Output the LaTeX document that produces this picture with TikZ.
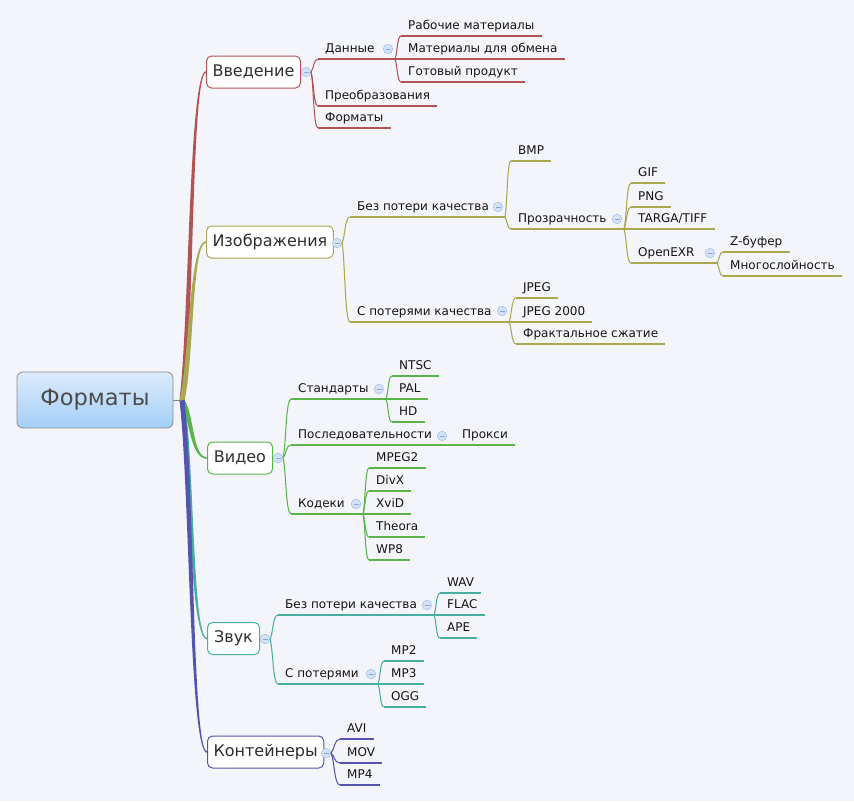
\documentclass[tikz,border=0pt]{standalone}
\usepackage{fontspec}
\setmainfont{DejaVu Sans}
\usetikzlibrary{calc}
\definecolor{bgc}{HTML}{F4F5FA}
\definecolor{cintro}{HTML}{B25456}
\definecolor{cimg}{HTML}{A8A850}
\definecolor{cvid}{HTML}{5AB44A}
\definecolor{csnd}{HTML}{48AFA0}
\definecolor{ccon}{HTML}{5454AE}
\definecolor{togf}{HTML}{D2E2F8}
\definecolor{togd}{HTML}{A9C2EA}
\definecolor{togm}{HTML}{8FA6D6}
\definecolor{txt}{HTML}{141414}
\definecolor{roottop}{HTML}{DCEBFB}
\definecolor{rootbot}{HTML}{A4CEF8}
\newcommand\leafline[2]{\draw[#1,ul] (#2.south west) -- (#2.south east);}
\newcommand\rootlink[2]{%
  \fill[#1] let \p1=(hub), \p2=(#2.west), \n1={sign(\y2-\y1)} in
  ({\x1-2.5pt},\y1) .. controls ({\x1-2.3pt+0.4*(\x2-\x1)},{\y1+0.25*(\y2-\y1)}) and ({\x1-1.5pt+0.35*(\x2-\x1)},{\y2+\n1*0.8pt}) .. (\x2,{\y2+\n1*0.8pt})
  -- (\x2,{\y2-\n1*0.8pt}) .. controls ({\x1+1.5pt+0.35*(\x2-\x1)},{\y2-\n1*0.8pt}) and ({\x1+2.3pt+0.4*(\x2-\x1)},{\y1+0.25*(\y2-\y1)}) .. ({\x1+2.5pt},\y1) -- cycle;}
\begin{document}
\begin{tikzpicture}[x=1pt,y=-1pt,
  leaf/.style={font=\fontsize{12}{14}\selectfont, text=txt, inner xsep=7pt, inner ysep=6pt, text height=9pt, text depth=0pt, anchor=south west},
  topic/.style={draw=#1, line width=1pt, fill=white, rounded corners=5pt, minimum height=32pt, inner xsep=6pt, anchor=west, font=\fontsize{16}{19}\selectfont, text=black!82},
  tog/.style={circle, draw=togd, fill=togf, line width=0.6pt, minimum size=9.5pt, inner sep=0pt, path picture={\draw[togm, line width=0.8pt] ([xshift=-2.5pt]path picture bounding box.center) -- ([xshift=2.5pt]path picture bounding box.center);}},
  br/.style={line width=1.05pt, to path={let \p1=(\tikztostart), \p2=(\tikztotarget) in .. controls ({\x1+0.4*(\x2-\x1)},{\y1+0.25*(\y2-\y1)}) and ({\x1+0.35*(\x2-\x1)},\y2) .. (\tikztotarget)}},
  ul/.style={line width=1.05pt},
]
\fill[bgc] (0,0) rectangle (854,801);
\useasboundingbox (0,0) rectangle (854,801);

% root
\node[draw=black!45, line width=0.8pt, rounded corners=6pt, top color=roottop, bottom color=rootbot, minimum width=156pt, minimum height=56pt, font=\fontsize{22.5}{26}\selectfont, text=black!70] (root) at (95,400) {Форматы};
\coordinate (hub) at (182,400);

% main topic positions (named coordinates for the links)
\coordinate (intro) at (206,72);
\coordinate (img) at (206,242);
\coordinate (vid) at (207,458);
\coordinate (snd) at (207,638.5);
\coordinate (con) at (207,752);

% root links
\rootlink{cintro}{intro}
\rootlink{cimg}{img}
\rootlink{cvid}{vid}
\rootlink{csnd}{snd}
\rootlink{ccon}{con}
\draw[black!50, line width=0.8pt] (root.east) -- (hub);

% main topics
\node[topic=cintro, minimum width=94pt] (tintro) at (intro) {Введение};
\node[topic=cimg, minimum width=124pt] (timg) at (img) {Изображения};
\node[topic=cvid, minimum width=65pt] (tvid) at (vid) {Видео};
\node[topic=csnd, minimum width=52pt] (tsnd) at (snd) {Звук};
\node[topic=ccon, minimum width=112pt] (tcon) at (con) {Контейнеры};

% ===== Введение =====
\node[tog] (t1) at (306,72) {};
\node[leaf] (data) at (318,59) {Данные};
\coordinate (datafork) at (395,59);
\node[leaf] (work) at (401,36) {Рабочие материалы};
\node[leaf] (exch) at (401,59) {Материалы для обмена};
\node[leaf] (final) at (401,82) {Готовый продукт};
\node[leaf] (conv) at (318,106) {Преобразования};
\node[leaf] (fmts) at (318,128) {Форматы};
\draw[cintro,br] (t1.east) to (data.south west);
\draw[cintro,br] (t1.east) to (conv.south west);
\draw[cintro,br] (t1.east) to (fmts.south west);
\draw[cintro,ul] (data.south west) -- (datafork);
\draw[cintro,br] (datafork) to (work.south west);
\draw[cintro,br] (datafork) to (exch.south west);
\draw[cintro,br] (datafork) to (final.south west);
\leafline{cintro}{work}\leafline{cintro}{exch}\leafline{cintro}{final}
\leafline{cintro}{conv}\leafline{cintro}{fmts}
\node[tog] (t1a) at (388,49) {};

% ===== Изображения =====
\node[tog] (t2) at (337,243) {};
\node[leaf] (lossless) at (350,217) {Без потери качества};
\coordinate (llfork) at (505,217);
\node[leaf] (bmp) at (511,161) {BMP};
\node[leaf] (transp) at (511,229) {Прозрачность};
\coordinate (trfork) at (624,229);
\node[leaf] (gif) at (631,183) {GIF};
\node[leaf] (png) at (631,207) {PNG};
\node[leaf] (tga) at (631,229) {TARGA/TIFF};
\node[leaf] (exr) at (631,263) {OpenEXR};
\coordinate (exrfork) at (717,263);
\node[leaf] (zbuf) at (723,252) {Z-буфер};
\node[leaf] (layers) at (723,276) {Многослойность};
\node[leaf] (lossy) at (350,322) {С потерями качества};
\coordinate (lyfork) at (509,322);
\node[leaf] (jpeg) at (516,298) {JPEG};
\node[leaf] (jp2) at (516,322) {JPEG 2000};
\node[leaf] (fract) at (516,344) {Фрактальное сжатие};
\draw[cimg,br] (t2.east) to (lossless.south west);
\draw[cimg,br] (t2.east) to (lossy.south west);
\draw[cimg,ul] (lossless.south west) -- (llfork);
\draw[cimg,br] (llfork) to (bmp.south west);
\draw[cimg,br] (llfork) to (transp.south west);
\leafline{cimg}{bmp}
\draw[cimg,ul] (transp.south west) -- (trfork);
\draw[cimg,br] (trfork) to (gif.south west);
\draw[cimg,br] (trfork) to (png.south west);
\draw[cimg,br] (trfork) to (tga.south west);
\draw[cimg,br] (trfork) to (exr.south west);
\leafline{cimg}{gif}\leafline{cimg}{png}\leafline{cimg}{tga}
\draw[cimg,ul] (exr.south west) -- (exrfork);
\draw[cimg,br] (exrfork) to (zbuf.south west);
\draw[cimg,br] (exrfork) to (layers.south west);
\leafline{cimg}{zbuf}\leafline{cimg}{layers}
\draw[cimg,ul] (lossy.south west) -- (lyfork);
\draw[cimg,br] (lyfork) to (jpeg.south west);
\draw[cimg,br] (lyfork) to (jp2.south west);
\draw[cimg,br] (lyfork) to (fract.south west);
\leafline{cimg}{jpeg}\leafline{cimg}{jp2}\leafline{cimg}{fract}
\node[tog] (t2a) at (498,207) {};
\node[tog] (t2b) at (617,219) {};
\node[tog] (t2c) at (710,253) {};
\node[tog] (t2d) at (502,311) {};

% ===== Видео =====
\node[tog] (t3) at (278,458) {};
\node[leaf] (std) at (291,399) {Стандарты};
\coordinate (stdfork) at (386,399);
\node[leaf] (ntsc) at (392,376) {NTSC};
\node[leaf] (pal) at (392,399) {PAL};
\node[leaf] (hd) at (392,422) {HD};
\node[leaf] (seq) at (291,445) {Последовательности};
\node[leaf] (proxy) at (455,445) {Прокси};
\node[leaf] (codec) at (291,514) {Кодеки};
\coordinate (codfork) at (363,514);
\node[leaf] (mpeg) at (369,468) {MPEG2};
\node[leaf] (divx) at (369,491) {DivX};
\node[leaf] (xvid) at (369,514) {XviD};
\node[leaf] (theora) at (369,537) {Theora};
\node[leaf] (wp8) at (369,560) {WP8};
\draw[cvid,br] (t3.east) to (std.south west);
\draw[cvid,br] (t3.east) to (seq.south west);
\draw[cvid,br] (t3.east) to (codec.south west);
\draw[cvid,ul] (std.south west) -- (stdfork);
\draw[cvid,br] (stdfork) to (ntsc.south west);
\draw[cvid,br] (stdfork) to (pal.south west);
\draw[cvid,br] (stdfork) to (hd.south west);
\leafline{cvid}{ntsc}\leafline{cvid}{pal}\leafline{cvid}{hd}
\draw[cvid,ul] (seq.south west) -- (proxy.south west);
\leafline{cvid}{proxy}
\draw[cvid,ul] (codec.south west) -- (codfork);
\draw[cvid,br] (codfork) to (mpeg.south west);
\draw[cvid,br] (codfork) to (divx.south west);
\draw[cvid,br] (codfork) to (xvid.south west);
\draw[cvid,br] (codfork) to (theora.south west);
\draw[cvid,br] (codfork) to (wp8.south west);
\leafline{cvid}{mpeg}\leafline{cvid}{divx}\leafline{cvid}{xvid}\leafline{cvid}{theora}\leafline{cvid}{wp8}
\node[tog] (t3a) at (379,389) {};
\node[tog] (t3b) at (442,436) {};
\node[tog] (t3c) at (356,504) {};

% ===== Звук =====
\node[tog] (t4) at (265,639) {};
\node[leaf] (slossless) at (278,615) {Без потери качества};
\coordinate (slfork) at (434,615);
\node[leaf] (wav) at (440,593) {WAV};
\node[leaf] (flac) at (440,615) {FLAC};
\node[leaf] (ape) at (440,638) {APE};
\node[leaf] (slossy) at (278,684) {С потерями};
\coordinate (syfork) at (378,684);
\node[leaf] (mp2) at (384,661) {MP2};
\node[leaf] (mp3) at (384,684) {MP3};
\node[leaf] (ogg) at (384,707) {OGG};
\draw[csnd,br] (t4.east) to (slossless.south west);
\draw[csnd,br] (t4.east) to (slossy.south west);
\draw[csnd,ul] (slossless.south west) -- (slfork);
\draw[csnd,br] (slfork) to (wav.south west);
\draw[csnd,br] (slfork) to (flac.south west);
\draw[csnd,br] (slfork) to (ape.south west);
\leafline{csnd}{wav}\leafline{csnd}{flac}\leafline{csnd}{ape}
\draw[csnd,ul] (slossy.south west) -- (syfork);
\draw[csnd,br] (syfork) to (mp2.south west);
\draw[csnd,br] (syfork) to (mp3.south west);
\draw[csnd,br] (syfork) to (ogg.south west);
\leafline{csnd}{mp2}\leafline{csnd}{mp3}\leafline{csnd}{ogg}
\node[tog] (t4a) at (427,605) {};
\node[tog] (t4b) at (371,674) {};

% ===== Контейнеры =====
\node[tog] (t5) at (326,753) {};
\node[leaf] (avi) at (340,739) {AVI};
\node[leaf] (mov) at (340,763) {MOV};
\node[leaf] (mp4) at (340,785) {MP4};
\draw[ccon,br] (t5.east) to (avi.south west);
\draw[ccon,br] (t5.east) to (mov.south west);
\draw[ccon,br] (t5.east) to (mp4.south west);
\leafline{ccon}{avi}\leafline{ccon}{mov}\leafline{ccon}{mp4}
\end{tikzpicture}
\end{document}
